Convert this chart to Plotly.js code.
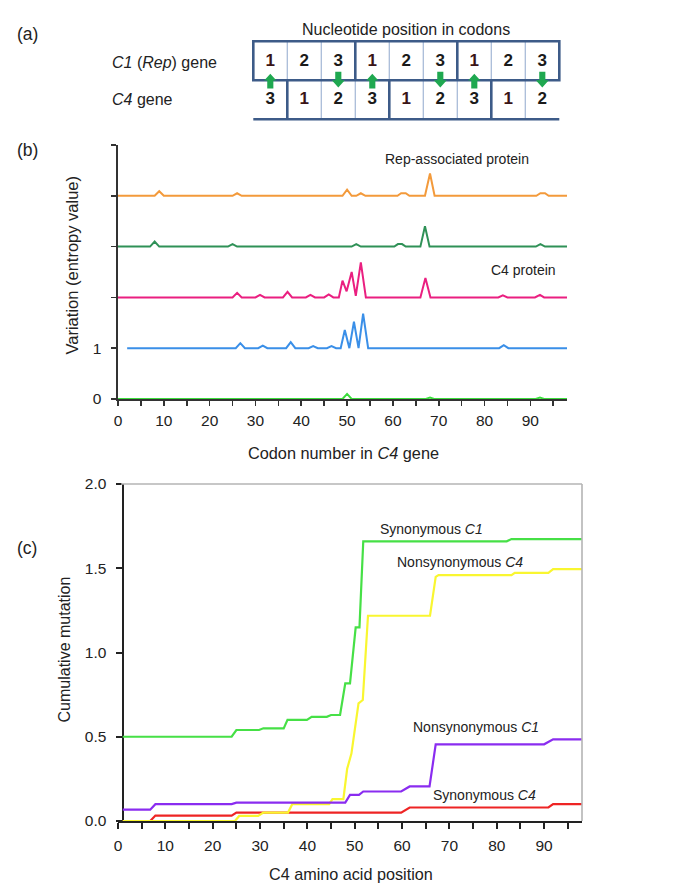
<!DOCTYPE html>
<html><head><meta charset="utf-8">
<script src="https://cdn.plot.ly/plotly-3.0.1.min.js"></script>
<style>html,body{margin:0;padding:0;background:#fff}#chart{width:691px;height:891px}</style>
</head><body><div id="chart"></div>
<script>
// ---------------- Panel (a): codon position diagram ----------------
const c1Positions = [1, 2, 3, 1, 2, 3, 1, 2, 3];
const c4Positions = [3, 1, 2, 3, 1, 2, 3, 1, 2];

// ---------------- Panel (b): entropy profiles (codon, entropy) ----------------
const bLabels = ['Amino acids', 'C1-1/C4-3', 'Amino acids', 'C1-3/C4-2', 'C1-2/C4-1'];
const repAaX = [0, 8, 9, 10, 25, 26, 27, 49, 50, 51, 52, 53, 54, 61, 61.8, 62.8, 63.6, 67, 68.1, 69.1, 91.3, 92.2, 93.2, 94, 98];
const repAaY = [0, 0, 0.09, 0, 0, 0.05, 0, 0, 0.12, 0, 0, 0.05, 0, 0, 0.05, 0.05, 0, 0, 0.44, 0, 0, 0.05, 0.05, 0, 0];
const c1c4aX = [0, 7, 8, 9, 24, 25, 26, 51, 52, 53, 60.3, 61.1, 62, 62.8, 66, 67, 68, 91.2, 92.2, 93.2, 98];
const c1c4aY = [0, 0, 0.1, 0, 0, 0.05, 0, 0, 0.05, 0, 0, 0.05, 0.05, 0, 0, 0.4, 0, 0, 0.05, 0, 0];
const c4AaX = [0, 25, 26, 27, 30, 31, 32, 36, 37, 38, 41, 42, 43, 45, 46, 47, 48.2, 49, 49.9, 51, 51.9, 53, 54.1, 66, 67.1, 68.2, 83, 84, 85, 91, 92.1, 93, 98];
const c4AaY = [0, 0, 0.09, 0, 0, 0.05, 0, 0, 0.11, 0, 0, 0.05, 0, 0, 0.06, 0, 0, 0.33, 0.12, 0.5, 0.03, 0.69, 0, 0, 0.38, 0, 0, 0.04, 0, 0, 0.05, 0, 0];
const c1c4bX = [2, 25.7, 26.7, 27.7, 30.6, 31.6, 32.6, 36.7, 37.7, 38.7, 41.6, 42.6, 43.6, 45.6, 46.6, 47.6, 48.6, 49.5, 50.5, 51.5, 52.5, 53.5, 54.6, 83.2, 84.2, 85.2, 98];
const c1c4bY = [0, 0, 0.1, 0, 0, 0.05, 0, 0, 0.12, 0, 0, 0.04, 0, 0, 0.04, 0, 0, 0.36, 0, 0.52, 0, 0.68, 0, 0, 0.06, 0, 0];
const c1c4cX = [0, 49, 50, 51, 67.2, 68.1, 69, 91.2, 92.1, 93, 98];
const c1c4cY = [0, 0, 0.1, 0, 0, 0.03, 0, 0, 0.03, 0, 0];

// ---------------- Panel (c): cumulative mutation ----------------
const cLabels = ['Synonymous <i>C1</i>', 'Nonsynonymous <i>C4</i>', 'Nonsynonymous <i>C1</i>', 'Synonymous <i>C4</i>'];
const synC1X = [1, 24, 25, 29.8, 30.7, 35, 35.8, 39.9, 40.9, 44.1, 45, 46.9, 48, 49, 50.2, 51, 51.8, 82.1, 83.1, 98];
const synC1Y = [0.5, 0.5, 0.54, 0.54, 0.55, 0.55, 0.6, 0.6, 0.618, 0.618, 0.629, 0.629, 0.817, 0.817, 1.149, 1.149, 1.66, 1.66, 1.673, 1.673];
const nonC4X = [1, 24.7, 25.6, 29.6, 30.7, 35.9, 36.8, 41.2, 44.6, 45.3, 47.6, 48.4, 49.3, 50.8, 51.7, 52.8, 65.9, 67.1, 67.7, 83.1, 83.8, 90.9, 91.9, 98];
const nonC4Y = [0, 0, 0.03, 0.03, 0.05, 0.05, 0.1, 0.1, 0.1, 0.13, 0.13, 0.31, 0.4, 0.698, 0.718, 1.218, 1.218, 1.449, 1.459, 1.459, 1.473, 1.473, 1.495, 1.495];
const nonC1X = [1, 6.8, 7.9, 24, 25, 48, 49, 50.9, 51.8, 59.8, 61.6, 65.8, 67.1, 90, 91.9, 98];
const nonC1Y = [0.067, 0.067, 0.1, 0.1, 0.109, 0.109, 0.155, 0.155, 0.175, 0.175, 0.205, 0.205, 0.455, 0.455, 0.485, 0.485];
const synC4X = [1, 6.8, 7.9, 24, 25, 59.8, 61.6, 90.9, 91.9, 98];
const synC4Y = [0, 0, 0.032, 0.032, 0.05, 0.05, 0.08, 0.08, 0.1, 0.1];

// ticks
const xTickVals = [0, 5, 10, 15, 20, 25, 30, 35, 40, 45, 50, 55, 60, 65, 70, 75, 80, 85, 90, 95];
const xTickText = ['0', '', '10', '', '20', '', '30', '', '40', '', '50', '', '60', '', '70', '', '80', '', '90', ''];
const bYTickVals = [0, 1, 2, 3, 4, 5];
const bYTickText = ['0', '1', '', '', '', ''];
const cYTickVals = [0, 0.5, 1.0, 1.5, 2.0];
const cYTickText = ['0.0', '0.5', '1.0', '1.5', '2.0'];

// ---------------- layout helpers (pixels -> paper) ----------------
const W = 691, H = 891;
const px = v => v / W, py = v => 1 - v / H;
const FONT = 'Liberation Sans, Arial, Helvetica, sans-serif';
const TXT = '#222';

const bColors = ['#f39a3b', '#2f9157', '#ea1f80', '#3a8fe8', '#3cdc3c'];
const bSeries = [[repAaX, repAaY], [c1c4aX, c1c4aY], [c4AaX, c4AaY], [c1c4bX, c1c4bY], [c1c4cX, c1c4cY]];
const bOffsets = [4, 3, 2, 1, 0];

const traces = [];
bSeries.forEach((s, k) => {
  traces.push({
    x: s[0], y: s[1].map(v => v + bOffsets[k]), type: 'scatter', mode: 'lines',
    line: {color: bColors[k], width: 2}, xaxis: 'x', yaxis: 'y', hoverinfo: 'skip',
    cliponaxis: false
  });
});

const cColors = {syn1: '#46e046', non4: '#f9f630', non1: '#8a2cf0', syn4: '#ee2424'};
traces.push({x: synC4X, y: synC4Y, mode: 'lines', line: {color: cColors.syn4, width: 2.2}, xaxis: 'x2', yaxis: 'y2', cliponaxis: false});
traces.push({x: nonC4X, y: nonC4Y, mode: 'lines', line: {color: cColors.non4, width: 2.2}, xaxis: 'x2', yaxis: 'y2', cliponaxis: false});
traces.push({x: nonC1X, y: nonC1Y, mode: 'lines', line: {color: cColors.non1, width: 2.2}, xaxis: 'x2', yaxis: 'y2', cliponaxis: false});
traces.push({x: synC1X, y: synC1Y, mode: 'lines', line: {color: cColors.syn1, width: 2.2}, xaxis: 'x2', yaxis: 'y2', cliponaxis: false});

// Panel (a) cell numbers as a text trace
const cellX = [], cellY = [], cellT = [], cellC = [];
c1Positions.forEach((p, i) => { cellX.push(i + 0.5); cellY.push(1.48); cellT.push(String(p)); cellC.push(p === 1 ? '#3a1416' : '#1a1a1a'); });
c4Positions.forEach((p, i) => { cellX.push(i + 0.5); cellY.push(0.5); cellT.push(String(p)); cellC.push(p === 1 ? '#3a1416' : '#1a1a1a'); });
traces.push({
  x: cellX, y: cellY, text: cellT, mode: 'text', xaxis: 'x3', yaxis: 'y3',
  textfont: {family: FONT, size: 17, color: cellC, weight: 'bold'}, hoverinfo: 'skip', cliponaxis: false
});

// Panel (a) shapes
const DARK = '#3d5b88', LIGHT = '#a9bcd8', ARROW = '#1fa850';
const shapes = [];
const n = c1Positions.length;
for (let i = 1; i < n; i++) {
  if (c1Positions[i] !== 1) shapes.push({type: 'line', xref: 'x3', yref: 'y3', x0: i, x1: i, y0: 1, y1: 2, line: {color: LIGHT, width: 1.3}, layer: 'above'});
  if (c4Positions[i] !== 1) shapes.push({type: 'line', xref: 'x3', yref: 'y3', x0: i, x1: i, y0: 0, y1: 1, line: {color: LIGHT, width: 1.3}, layer: 'above'});
}
for (let i = 1; i < n; i++) {
  if (c1Positions[i] === 1) shapes.push({type: 'line', xref: 'x3', yref: 'y3', x0: i, x1: i, y0: 1, y1: 2, line: {color: DARK, width: 2.6}, layer: 'above'});
  if (c4Positions[i] === 1) shapes.push({type: 'line', xref: 'x3', yref: 'y3', x0: i, x1: i, y0: 0, y1: 1, line: {color: DARK, width: 2.6}, layer: 'above'});
}
shapes.push({type: 'rect', xref: 'x3', yref: 'y3', x0: 0, x1: n, y0: 1, y1: 2, line: {color: DARK, width: 2.6}, layer: 'above'});
shapes.push({type: 'line', xref: 'x3', yref: 'y3', x0: 0, x1: n, y0: 0, y1: 0, line: {color: DARK, width: 2.6}, layer: 'above'});
c1Positions.forEach((p, i) => {
  const cx = i + 0.5;
  let d = null;
  if (p === 1) {
    d = `M${cx},1.165 L${cx + 0.18},0.995 L${cx + 0.09},0.995 L${cx + 0.09},0.79 L${cx - 0.09},0.79 L${cx - 0.09},0.995 L${cx - 0.18},0.995 Z`;
  } else if (p === 3) {
    d = `M${cx - 0.09},1.22 L${cx + 0.09},1.22 L${cx + 0.09},1.0 L${cx + 0.19},1.0 L${cx},0.815 L${cx - 0.19},1.0 L${cx - 0.09},1.0 Z`;
  }
  if (d) shapes.push({type: 'path', xref: 'x3', yref: 'y3', path: d, fillcolor: ARROW, line: {width: 0}, layer: 'above'});
});

// Panel (c) frame (top and right, light grey)
shapes.push({type: 'line', xref: 'paper', yref: 'paper', x0: px(121), x1: px(582), y0: py(484), y1: py(484), line: {color: '#b4b4b4', width: 1.6}});
shapes.push({type: 'line', xref: 'paper', yref: 'paper', x0: px(582), x1: px(582), y0: py(484), y1: py(821), line: {color: '#b4b4b4', width: 1.6}});

// annotations
const ann = [];
const f = (size, extra) => Object.assign({family: FONT, size: size, color: TXT}, extra || {});
const A = o => Object.assign({showarrow: false, xanchor: 'center', yanchor: 'middle'}, o);
ann.push(A({xref: 'paper', yref: 'paper', x: px(15), y: py(34), text: '(a)', xanchor: 'left', font: f(17.5)}));
ann.push(A({xref: 'paper', yref: 'paper', x: px(15), y: py(150), text: '(b)', xanchor: 'left', font: f(17.5)}));
ann.push(A({xref: 'paper', yref: 'paper', x: px(15), y: py(548), text: '(c)', xanchor: 'left', font: f(17.5)}));
ann.push(A({xref: 'x3', yref: 'y3', x: n / 2, y: 2.29, text: 'Nucleotide position in codons', font: f(16)}));
ann.push(A({xref: 'x3', yref: 'y3', x: -4.21, y: 1.45, text: '<i>C1</i> (<i>Rep</i>) gene', xanchor: 'left', font: f(16)}));
ann.push(A({xref: 'x3', yref: 'y3', x: -4.21, y: 0.51, text: '<i>C4</i> gene', xanchor: 'left', font: f(16)}));

// panel (b) labels
ann.push(A({xref: 'x', yref: 'y', x: 73.9, y: 4.72, text: 'Rep-associated protein', font: f(14)}));
ann.push(A({xref: 'x', yref: 'y', x: 88.6, y: 2.54, text: 'C4 protein', font: f(14)}));
const bLabelX = [98.8, 98.8, 99.8, 99.8, 99.8];
bLabels.forEach((t, k) => ann.push(A({xref: 'x', yref: 'y', x: bLabelX[k], y: bOffsets[k] + 0.03, text: t, xanchor: 'left', font: f(14)})));
ann.push(A({xref: 'paper', yref: 'paper', x: px(71.5), y: py(265), text: 'Variation (entropy value)', textangle: -90, font: f(16.5)}));
ann.push(A({xref: 'paper', yref: 'paper', x: px(343), y: py(453), text: 'Codon number in <i>C4</i> gene', font: f(16.3)}));

// panel (c) labels
const cLabelPos = [[66.3, 1.732], [72.2, 1.538], [75.6, 0.558], [77.5, 0.154]];
cLabels.forEach((t, k) => ann.push(A({xref: 'x2', yref: 'y2', x: cLabelPos[k][0], y: cLabelPos[k][1], text: t, font: f(14)})));
ann.push(A({xref: 'paper', yref: 'paper', x: px(63.5), y: py(650), text: 'Cumulative mutation', textangle: -90, font: f(16)}));
ann.push(A({xref: 'paper', yref: 'paper', x: px(350.5), y: py(874), text: 'C4 amino acid position', font: f(16.2)}));

const tickFont = f(15.5);
const layout = {
  width: W, height: H, margin: {l: 0, r: 0, t: 0, b: 0},
  paper_bgcolor: '#fff', plot_bgcolor: 'rgba(0,0,0,0)', showlegend: false,
  font: {family: FONT, color: TXT},
  xaxis: {domain: [px(118), px(567)], range: [0, 98], anchor: 'y', showgrid: false, zeroline: false, layer: 'below traces',
    showline: true, linecolor: '#333', linewidth: 1.6, ticks: 'outside', ticklen: 5, tickwidth: 1.6, tickcolor: '#333',
    ticklabelstandoff: 2,
    tickmode: 'array', tickvals: xTickVals, ticktext: xTickText, tickfont: tickFont, title: {text: ''}},
  yaxis: {domain: [py(399), py(145)], range: [0, 5], anchor: 'x', showgrid: false, zeroline: false, layer: 'below traces',
    showline: true, linecolor: '#333', linewidth: 1.6, ticks: 'outside', ticklen: 5, tickwidth: 1.6, tickcolor: '#333',
    ticklabelstandoff: 7,
    tickmode: 'array', tickvals: bYTickVals, ticktext: bYTickText, tickfont: tickFont, title: {text: ''}},
  xaxis2: {domain: [px(118), px(582)], range: [0, 98], anchor: 'y2', showgrid: false, zeroline: false, layer: 'below traces',
    showline: true, linecolor: '#222', linewidth: 2, ticks: 'outside', ticklen: 6, tickwidth: 2, tickcolor: '#222',
    ticklabelstandoff: 3,
    tickmode: 'array', tickvals: xTickVals, ticktext: xTickText, tickfont: tickFont, title: {text: ''}},
  yaxis2: {domain: [py(821), py(484)], range: [0, 2], anchor: 'free', position: px(122.5), showgrid: false, zeroline: false, layer: 'below traces',
    showline: true, linecolor: '#222', linewidth: 2, ticks: 'outside', ticklen: 6, tickwidth: 2, tickcolor: '#222',
    ticklabelstandoff: 6,
    tickmode: 'array', tickvals: cYTickVals, ticktext: cYTickText, tickfont: tickFont, title: {text: ''}},
  xaxis3: {domain: [0, 1], range: [-253.3 / 34, (W - 253.3) / 34], anchor: 'y3', visible: false, fixedrange: true},
  yaxis3: {domain: [0, 1], range: [-(H - 119.3) / 39, 119.3 / 39], anchor: 'x3', visible: false, fixedrange: true},
  shapes: shapes, annotations: ann
};

Plotly.newPlot('chart', traces, layout, {staticPlot: true, displayModeBar: false});
</script>
</body></html>
